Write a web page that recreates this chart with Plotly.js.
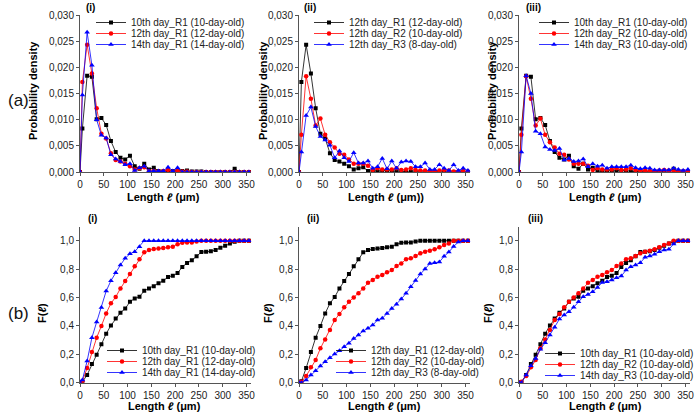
<!DOCTYPE html>
<html>
<head>
<meta charset="utf-8">
<script src="https://cdn.plot.ly/plotly-3.0.1.min.js"></script>
<style>html,body{margin:0;padding:0;background:#fff;}#chart{width:697px;height:417px;}</style>
</head>
<body>
<div id="chart"></div>
<script>
// Bin centres (µm)
var lengthBins = [0, 5, 15, 25, 35, 45, 55, 65, 75, 85, 95, 105, 115, 125, 135, 145, 155, 165, 175, 185, 195, 205, 215, 225, 235, 245, 255, 265, 275, 285, 295, 305, 315, 325, 335, 345, 355];

// Probability density
var pdf_10d_R1 = [0, 0.0083, 0.0184, 0.0182, 0.0101, 0.0103, 0.0090, 0.0059, 0.0038, 0.0027, 0.0024, 0.0031, 0.0011, 0.0006, 0.0016, 0.0005, 0.0008, 0.0002, 0.0001, 0.0003, 0.0002, 0.0002, 0.0002, 0.0003, 0.0001, 0.0001, 0.0001, 0, 0, 0, 0, 0, 0, 0.0006, 0, 0, 0];
var pdf_12d_R1 = [0, 0.0172, 0.0243, 0.0188, 0.0122, 0.0073, 0.0064, 0.0036, 0.0023, 0.0020, 0.0016, 0.0011, 0.0005, 0.0007, 0.0009, 0.0002, 0.0002, 0.0001, 0.0002, 0.0004, 0.0001, 0.0002, 0.0001, 0.0001, 0, 0, 0, 0, 0, 0, 0, 0, 0, 0, 0, 0, 0];
var pdf_14d_R1 = [0, 0.0147, 0.0267, 0.0204, 0.0100, 0.0070, 0.0065, 0.0033, 0.0025, 0.0020, 0.0014, 0.0016, 0.0003, 0.0008, 0.0011, 0.0002, 0.0002, 0.0002, 0.0002, 0.0009, 0.0002, 0.0008, 0, 0, 0, 0, 0, 0, 0, 0, 0, 0, 0, 0, 0, 0, 0];
var pdf_12d_R2 = [0, 0.0071, 0.0183, 0.0140, 0.0089, 0.0102, 0.0071, 0.0057, 0.0047, 0.0035, 0.0033, 0.0024, 0.0016, 0.0016, 0.0016, 0.0012, 0.0004, 0.0007, 0.0005, 0.0005, 0.0005, 0.0007, 0.0004, 0.0005, 0.0007, 0.0004, 0.0003, 0.0003, 0.0002, 0.0002, 0.0003, 0.0004, 0.0003, 0.0001, 0.0001, 0.0002, 0.0001];
var pdf_12d_R3 = [0, 0.0038, 0.0108, 0.0124, 0.0087, 0.0068, 0.0061, 0.0051, 0.0027, 0.0040, 0.0027, 0.0020, 0.0037, 0.0017, 0.0017, 0.0021, 0.0007, 0.0010, 0.0026, 0.0006, 0.0021, 0.0007, 0.0019, 0.0021, 0.0020, 0.0010, 0.0010, 0.0017, 0.0005, 0.0005, 0.0014, 0.0007, 0.0003, 0.0014, 0.0003, 0.0007, 0.0003];
var pdf_14d_R3 = [0, 0.0038, 0.0184, 0.0150, 0.0078, 0.0073, 0.0048, 0.0043, 0.0041, 0.0045, 0.0023, 0.0026, 0.0020, 0.0021, 0.0025, 0.0010, 0.0016, 0.0011, 0.0013, 0.0007, 0.0010, 0.0010, 0.0010, 0.0010, 0.0013, 0.0008, 0.0006, 0.0008, 0.0007, 0.0004, 0.0004, 0.0004, 0.0004, 0.0007, 0.0005, 0.0003, 0.0005];

// Cumulative distribution F(l)
var cdf_10d_R1 = [0, 0.005, 0.055, 0.132, 0.197, 0.270, 0.345, 0.403, 0.452, 0.493, 0.522, 0.570, 0.593, 0.606, 0.647, 0.664, 0.680, 0.700, 0.718, 0.745, 0.753, 0.772, 0.815, 0.843, 0.862, 0.890, 0.920, 0.922, 0.925, 0.935, 0.950, 0.965, 0.980, 0.993, 1.0, 1.0, 1.0];
var cdf_12d_R1 = [0, 0.010, 0.103, 0.216, 0.317, 0.400, 0.488, 0.559, 0.603, 0.664, 0.716, 0.765, 0.820, 0.869, 0.918, 0.934, 0.942, 0.945, 0.948, 0.953, 0.958, 0.975, 0.985, 0.987, 0.988, 0.995, 1.0, 1.0, 1.0, 1.0, 1.0, 1.0, 1.0, 1.0, 1.0, 1.0, 1.0];
var cdf_14d_R1 = [0, 0.019, 0.153, 0.317, 0.427, 0.530, 0.645, 0.718, 0.775, 0.829, 0.876, 0.908, 0.923, 0.958, 1.0, 1.0, 1.0, 1.0, 1.0, 1.0, 1.0, 1.0, 1.0, 1.0, 1.0, 1.0, 1.0, 1.0, 1.0, 1.0, 1.0, 1.0, 1.0, 1.0, 1.0, 1.0, 1.0];
var cdf_12d_R2 = [0, 0.007, 0.047, 0.108, 0.160, 0.242, 0.305, 0.371, 0.441, 0.484, 0.531, 0.570, 0.600, 0.630, 0.664, 0.704, 0.723, 0.746, 0.758, 0.777, 0.793, 0.822, 0.840, 0.869, 0.876, 0.892, 0.911, 0.923, 0.930, 0.939, 0.953, 0.969, 0.981, 1.0, 1.0, 1.0, 1.0];
var cdf_12d_R3 = [0, 0.0, 0.019, 0.054, 0.085, 0.117, 0.148, 0.176, 0.202, 0.225, 0.254, 0.277, 0.312, 0.336, 0.364, 0.383, 0.406, 0.441, 0.453, 0.488, 0.523, 0.552, 0.589, 0.630, 0.675, 0.720, 0.765, 0.800, 0.840, 0.845, 0.850, 0.890, 0.920, 0.960, 0.990, 1.0, 1.0];
var cdf_14d_R3 = [0, 0.0, 0.054, 0.120, 0.171, 0.235, 0.282, 0.336, 0.390, 0.448, 0.477, 0.500, 0.531, 0.570, 0.606, 0.622, 0.641, 0.671, 0.706, 0.711, 0.723, 0.739, 0.751, 0.793, 0.817, 0.829, 0.845, 0.883, 0.892, 0.904, 0.923, 0.934, 0.939, 0.977, 1.0, 1.0, 1.0];

// Legend labels
var labels_i   = ["10th day_R1 (10-day-old)", "12th day_R1 (12-day-old)", "14th day_R1 (14-day-old)"];
var labels_ii  = ["12th day_R1 (12-day-old)", "12th day_R2 (10-day-old)", "12th day_R3 (8-day-old)"];
var labels_iii = ["10th day_R1 (10-day-old)", "12th day_R2 (10-day-old)", "14th day_R3 (10-day-old)"];

// Axis titles and panel labels
var pdfTitle = "Probability density";
var cdfTitle = "F(<i>ℓ</i>)";
var lenTitle = "Length <i>ℓ</i> (μm)";
var lenTitleAlt = "Length <i>ℓ</i> (μm))";
var panelTags = ["(i)", "(ii)", "(iii)"];
var rowTags = ["(a)", "(b)"];

var FONT = "Liberation Sans, Arial, sans-serif";
var styles = [
  {color: "#000000", symbol: "square", size: 4},
  {color: "#ff0000", symbol: "circle", size: 4.5},
  {color: "#0000ff", symbol: "triangle-up", size: 5}
];

function mk(y, label, k, ax, leg) {
  var s = styles[k];
  return {
    x: lengthBins, y: y, name: label, type: "scatter", mode: "lines+markers",
    xaxis: "x" + (ax === 1 ? "" : ax), yaxis: "y" + (ax === 1 ? "" : ax),
    legend: leg,
    line: {color: s.color, width: 0.8},
    marker: {color: s.color, symbol: s.symbol, size: s.size, line: {width: 0}}
  };
}

var traces = [
  mk(pdf_10d_R1, labels_i[0], 0, 1, "legend"),
  mk(pdf_12d_R1, labels_i[1], 1, 1, "legend"),
  mk(pdf_14d_R1, labels_i[2], 2, 1, "legend"),
  mk(pdf_12d_R1, labels_ii[0], 0, 2, "legend2"),
  mk(pdf_12d_R2, labels_ii[1], 1, 2, "legend2"),
  mk(pdf_12d_R3, labels_ii[2], 2, 2, "legend2"),
  mk(pdf_10d_R1, labels_iii[0], 0, 3, "legend3"),
  mk(pdf_12d_R2, labels_iii[1], 1, 3, "legend3"),
  mk(pdf_14d_R3, labels_iii[2], 2, 3, "legend3"),
  mk(cdf_10d_R1, labels_i[0], 0, 4, "legend4"),
  mk(cdf_12d_R1, labels_i[1], 1, 4, "legend4"),
  mk(cdf_14d_R1, labels_i[2], 2, 4, "legend4"),
  mk(cdf_12d_R1, labels_ii[0], 0, 5, "legend5"),
  mk(cdf_12d_R2, labels_ii[1], 1, 5, "legend5"),
  mk(cdf_12d_R3, labels_ii[2], 2, 5, "legend5"),
  mk(cdf_10d_R1, labels_iii[0], 0, 6, "legend6"),
  mk(cdf_12d_R2, labels_iii[1], 1, 6, "legend6"),
  mk(cdf_14d_R3, labels_iii[2], 2, 6, "legend6")
];

var W = 697, H = 417;
var xDom = [[80 / W, 251.3 / W], [299 / W, 470.3 / W], [519 / W, 690.3 / W]];
var yTop = [1 - 172 / H, 1 - 15 / H];
var yBot = [1 - 382.7 / H, 1 - 226.5 / H];

function xa(dom, anchor) {
  return {
    domain: dom, anchor: anchor, range: [0, 360], tickvals: [0, 50, 100, 150, 200, 250, 300, 350],
    showline: true, linecolor: "#555", linewidth: 1, ticks: "outside", ticklen: 3, tickcolor: "#555",
    showgrid: false, zeroline: false, tickfont: {family: FONT, size: 10, color: "#222"}
  };
}
function ya(dom, anchor, range, dtick, fmt) {
  return {
    domain: dom, anchor: anchor, range: range, dtick: dtick, tick0: 0, tickformat: fmt,
    showline: true, linecolor: "#555", linewidth: 1, ticks: "outside", ticklen: 3, tickcolor: "#555",
    showgrid: false, zeroline: false, tickfont: {family: FONT, size: 10, color: "#222"}
  };
}

function leg(xpx, ypx) {
  return {
    x: xpx / W, y: 1 - ypx / H, xanchor: "left", yanchor: "top",
    bgcolor: "rgba(0,0,0,0)", borderwidth: 0,
    font: {family: FONT, size: 10, color: "#222"}, tracegroupgap: 0
  };
}

function ann(text, xpx, ypx, size, bold, angle) {
  return {
    text: bold ? "<b>" + text + "</b>" : text, x: xpx / W, y: 1 - ypx / H,
    xref: "paper", yref: "paper", showarrow: false, xanchor: "center", yanchor: "middle",
    textangle: angle || 0, font: {family: FONT, size: size, color: bold ? "#000" : "#111"}
  };
}

var layout = {
  width: W, height: H, margin: {l: 0, r: 0, t: 0, b: 0, autoexpand: false},
  paper_bgcolor: "#fff", plot_bgcolor: "#fff",
  separators: ",.",
  font: {family: FONT, color: "#222"},
  xaxis:  xa(xDom[0], "y"),
  xaxis2: xa(xDom[1], "y2"),
  xaxis3: xa(xDom[2], "y3"),
  xaxis4: xa(xDom[0], "y4"),
  xaxis5: xa(xDom[1], "y5"),
  xaxis6: xa(xDom[2], "y6"),
  yaxis:  ya(yTop, "x",  [0, 0.030], 0.005, ".3f"),
  yaxis2: ya(yTop, "x2", [0, 0.030], 0.005, ".3f"),
  yaxis3: ya(yTop, "x3", [0, 0.030], 0.005, ".3f"),
  yaxis4: ya(yBot, "x4", [0, 1.1], 0.2, ".1f"),
  yaxis5: ya(yBot, "x5", [0, 1.1], 0.2, ".1f"),
  yaxis6: ya(yBot, "x6", [0, 1.1], 0.2, ".1f"),
  legend:  leg(91, 8),
  legend2: leg(309, 8),
  legend3: leg(534, 8),
  legend4: leg(102, 336),
  legend5: leg(331, 336),
  legend6: leg(540, 339),
  showlegend: true,
  annotations: [
    ann(rowTags[0], 18, 100, 17, false),
    ann(rowTags[1], 18, 313, 17, false),
    ann(panelTags[0], 90, 7, 10, true),
    ann(panelTags[1], 310, 7, 10, true),
    ann(panelTags[2], 533, 7, 10, true),
    ann(panelTags[0], 92, 219, 10, true),
    ann(panelTags[1], 313, 219, 10, true),
    ann(panelTags[2], 535, 219, 10, true),
    ann(pdfTitle, 33, 91, 11, true, -90),
    ann(pdfTitle, 263, 91, 11, true, -90),
    ann(pdfTitle, 492, 91, 11, true, -90),
    ann(cdfTitle, 42, 313, 11, true, -90),
    ann(cdfTitle, 268, 313, 11, true, -90),
    ann(cdfTitle, 488, 313, 11, true, -90),
    ann(lenTitle, 163, 197, 11, true),
    ann(lenTitleAlt, 386, 197, 11, true),
    ann(lenTitle, 605, 197, 11, true),
    ann(lenTitle, 164, 406, 11, true),
    ann(lenTitle, 384, 406, 11, true),
    ann(lenTitle, 605, 406, 11, true)
  ]
};

Plotly.newPlot("chart", traces, layout, {staticPlot: true, displayModeBar: false}).then(function (gd) {
  try {
    var groups = gd.querySelectorAll(".infolayer > g");
    groups.forEach(function (lg) {
      var cls = lg.getAttribute("class") || "";
      if (cls.indexOf("legend") !== 0) return;
      var items = lg.querySelectorAll("g.traces");
      var y0 = null;
      items.forEach(function (it, i) {
        var t = it.getAttribute("transform") || "";
        var m = /translate\(\s*([-\d.e]+)[,\s]+([-\d.e]+)\s*\)/.exec(t);
        if (!m) return;
        var x = parseFloat(m[1]), y = parseFloat(m[2]);
        if (i === 0) y0 = y;
        it.setAttribute("transform", "translate(" + x + "," + (y0 + i * 11) + ")");
      });
    });
  } catch (e) {}
});
</script>
</body>
</html>
